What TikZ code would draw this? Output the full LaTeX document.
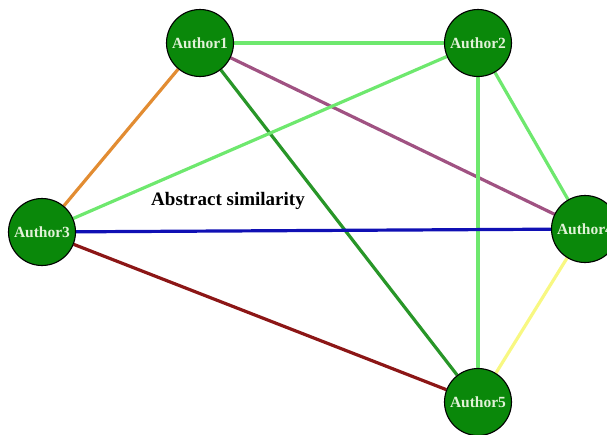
\documentclass[tikz,border=0pt]{standalone}
\usepackage{fontspec}
\setmainfont{Liberation Serif}
\usetikzlibrary{backgrounds}
\definecolor{nodefill}{RGB}{10,136,10}
\definecolor{nodetext}{RGB}{225,242,215}
\definecolor{lgreen}{RGB}{110,232,110}
\definecolor{eorange}{RGB}{226,140,50}
\definecolor{epurple}{RGB}{160,82,130}
\definecolor{dgreen}{RGB}{40,150,40}
\definecolor{ered}{RGB}{140,22,22}
\definecolor{eyellow}{RGB}{248,248,130}
\definecolor{eblue}{RGB}{16,16,180}
\tikzset{
  author/.style={circle, draw=black, line width=1.1pt, fill=nodefill, minimum size=67pt, inner sep=0pt,
    text=nodetext, font=\fontsize{15.5}{15.5}\selectfont\bfseries},
  edge/.style={line width=3.2pt},
}
\begin{document}
\begin{tikzpicture}[x=1pt,y=-1pt]
\useasboundingbox (0,0) rectangle (607,434);
\node[author] (a1) at (200,43) {Author1};
\node[author] (a2) at (478,43) {Author2};
\node[author] (a3) at (42,232) {Author3};
\node[author] (a4) at (585,229) {Author4};
\node[author] (a5) at (478,402) {Author5};
\node[font=\fontsize{19}{19}\selectfont\bfseries, text=black] (lbl) at (228,201) {Abstract similarity};
\begin{scope}[on background layer]
\draw[edge, lgreen] (a1) -- (a2);
\draw[edge, eorange] (a1) -- (a3);
\draw[edge, epurple] (a1) -- (a4);
\draw[edge, dgreen] (a1) -- (a5);
\draw[edge, lgreen] (a2) -- (a3);
\draw[edge, lgreen] (a2) -- (a4);
\draw[edge, lgreen] (a2) -- (a5);
\draw[edge, eblue] (a3) -- (a4);
\draw[edge, ered] (a3) -- (a5);
\draw[edge, eyellow] (a4) -- (a5);
\end{scope}
\end{tikzpicture}
\end{document}
